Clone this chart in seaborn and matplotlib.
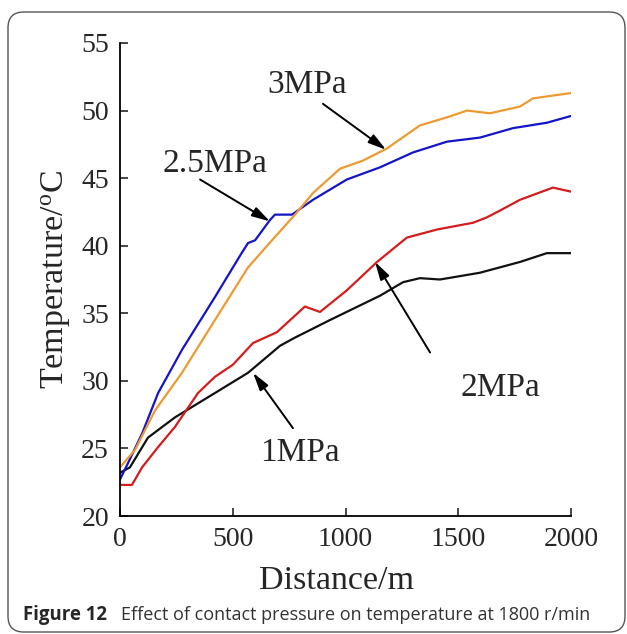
import matplotlib
matplotlib.use("Agg")
import matplotlib.pyplot as plt
import seaborn as sns
import pandas as pd
from matplotlib.patches import FancyBboxPatch

# ---- data ----
d_1mpa = [0, 44, 124, 244, 421, 568, 710, 776, 931, 1153, 1255, 1330, 1419, 1596, 1774, 1893, 2000]
t_1mpa = [23.2, 23.6, 25.8, 27.3, 29.1, 30.6, 32.6, 33.2, 34.5, 36.3, 37.3, 37.6, 37.5, 38.0, 38.8, 39.45, 39.45]

d_2mpa = [0, 53, 98, 169, 244, 346, 421, 501, 590, 696, 820, 887, 1006, 1140, 1272, 1406, 1566, 1627, 1685, 1774, 1920, 2000]
t_2mpa = [22.3, 22.3, 23.6, 25.1, 26.6, 29.1, 30.3, 31.2, 32.8, 33.6, 35.5, 35.1, 36.7, 38.8, 40.6, 41.2, 41.7, 42.1, 42.6, 43.4, 44.3, 44.0]

d_25mpa = [0, 35, 98, 169, 275, 421, 541, 568, 599, 665, 687, 763, 856, 1006, 1153, 1299, 1450, 1596, 1743, 1893, 2000]
t_25mpa = [22.7, 23.9, 26.1, 29.1, 32.3, 36.2, 39.5, 40.2, 40.4, 41.9, 42.3, 42.3, 43.4, 44.9, 45.8, 46.9, 47.7, 48.0, 48.7, 49.1, 49.6]

d_3mpa = [0, 67, 155, 275, 421, 568, 674, 776, 856, 976, 1078, 1184, 1330, 1450, 1539, 1641, 1774, 1831, 2000]
t_3mpa = [23.6, 24.9, 27.8, 30.6, 34.5, 38.4, 40.4, 42.3, 43.9, 45.7, 46.3, 47.2, 48.9, 49.5, 50.0, 49.8, 50.3, 50.9, 51.3]

series_names = ["1MPa", "2MPa", "2.5MPa", "3MPa"]
series_colors = ["#111111", "#D41C1C", "#1414C8", "#EE9A32"]

x_ticks = [0, 500, 1000, 1500, 2000]
y_ticks = [20, 25, 30, 35, 40, 45, 50, 55]

# annotations: label, text pos, arrow tail, arrow tip (data coords)
ann_labels = ["3MPa", "2.5MPa", "2MPa", "1MPa"]
ann_text_xy = [(829, 51.9), (421, 46.1), (1685, 29.5), (798, 24.7)]
ann_tail_xy = [(900, 50.5), (355, 44.9), (1375, 32.1), (767, 26.5)]
ann_tip_xy = [(1180, 47.1), (665, 41.8), (1131, 38.8), (590, 30.6)]

frames = []
for name, d, t in zip(series_names,
                      [d_1mpa, d_2mpa, d_25mpa, d_3mpa],
                      [t_1mpa, t_2mpa, t_25mpa, t_3mpa]):
    frames.append(pd.DataFrame({"Distance": d, "Temperature": t, "Pressure": name}))
df = pd.concat(frames, ignore_index=True)

sns.set_theme(style="ticks")
plt.rcParams["font.family"] = ["Liberation Serif", "DejaVu Serif"]

W, H = 627, 634
fig = plt.figure(figsize=(W / 100, H / 100), dpi=100)
ax = fig.add_axes([120 / W, 1 - 516 / H, (571 - 120) / W, (516 - 43) / H])

sns.lineplot(data=df, x="Distance", y="Temperature", hue="Pressure",
             hue_order=series_names, palette=series_colors, linewidth=1.6,
             legend=False, ax=ax, sort=False, estimator=None)

ax.set_xlim(0, 2000)
ax.set_ylim(20, 55)
ax.set_xticks(x_ticks)
ax.set_yticks(y_ticks)
ax.tick_params(direction="in", length=6, width=1.2, labelsize=20, pad=8)
for s in ["top", "right"]:
    ax.spines[s].set_visible(False)
for s in ["left", "bottom"]:
    ax.spines[s].set_linewidth(1.3)
    ax.spines[s].set_color("black")
ax.set_xlabel("Distance/m", fontsize=24.5, labelpad=9)
ax.xaxis.set_label_coords(0.48, -0.105)
ax.set_ylabel("Temperature/$\\mathregular{^{o}}$C", fontsize=24.5, labelpad=6)

for lab, txy, tail, tip in zip(ann_labels, ann_text_xy, ann_tail_xy, ann_tip_xy):
    ax.text(txy[0], txy[1], lab, fontsize=24, ha="center", va="center")
    ax.annotate("", xy=tip, xytext=tail,
                arrowprops=dict(arrowstyle="-|>,head_length=0.9,head_width=0.25",
                                color="black", lw=1.4, shrinkA=0, shrinkB=0))

# border box
box = FancyBboxPatch((8 / W, 1 - 632 / H), (625 - 8) / W, (632 - 12) / H,
                     boxstyle="round,pad=0,rounding_size=0.025",
                     transform=fig.transFigure, fill=False,
                     edgecolor="#555555", linewidth=1.0)
fig.patches.append(box)

fig.text(23 / W, 1 - 615 / H, "Figure 12", fontsize=13.4, fontweight="bold",
         family=["Open Sans", "DejaVu Sans"], va="center", ha="left")
fig.text(121 / W, 1 - 615 / H, "Effect of contact pressure on temperature at 1800 r/min",
         fontsize=13.0, family=["Open Sans", "DejaVu Sans"], va="center", ha="left",
         color="#333333")

fig.savefig("out.png", dpi=100)
